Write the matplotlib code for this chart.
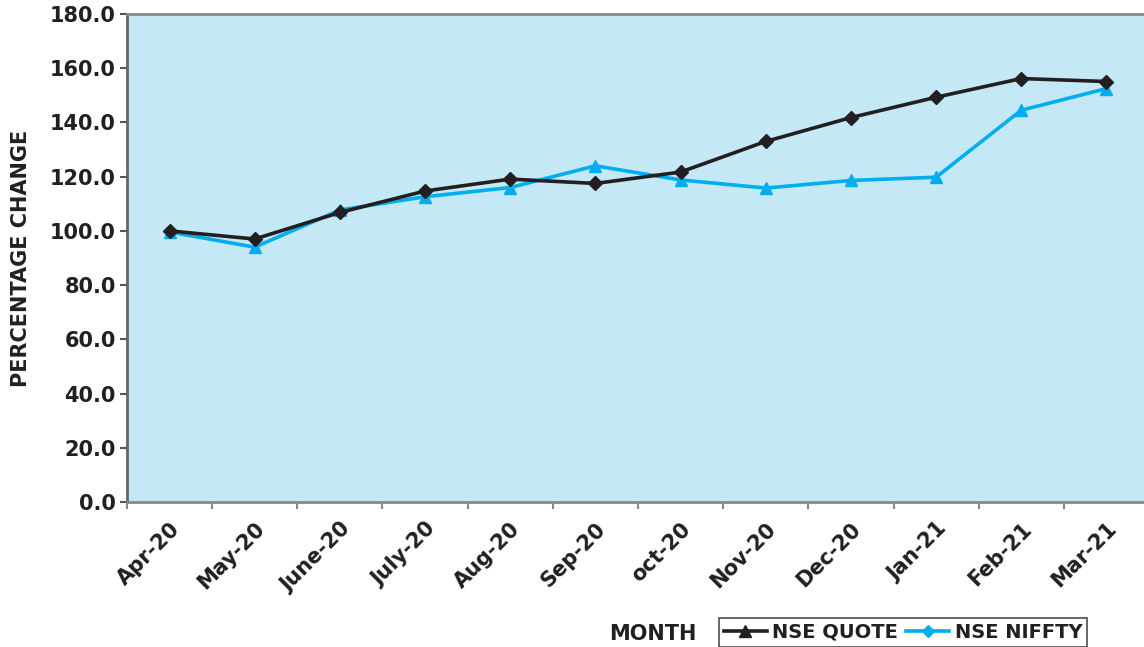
import matplotlib
matplotlib.use('Agg')
import matplotlib.pyplot as plt
from matplotlib.lines import Line2D
import numpy as np

# data
months = ['Apr-20', 'May-20', 'June-20', 'July-20', 'Aug-20', 'Sep-20',
          'oct-20', 'Nov-20', 'Dec-20', 'Jan-21', 'Feb-21', 'Mar-21']
nse_quote = [100.0, 97.0, 106.8, 114.7, 119.1, 117.5, 121.7, 133.0, 141.8, 149.3, 156.2, 155.1]
nse_nifty = [99.6, 94.0, 107.7, 112.6, 116.0, 124.0, 118.8, 115.8, 118.6, 119.8, 144.5, 152.5]
yticks = [0, 20, 40, 60, 80, 100, 120, 140, 160, 180]

plt.rcParams['font.family'] = ['DejaVu Sans']
plt.rcParams['font.weight'] = 'bold'
FS = 15

W, H = 1144, 647
fig = plt.figure(figsize=(W / 100, H / 100), dpi=100)
# plot area in pixels: left 127, top 14, bottom 502, right edge runs past the image
ax = fig.add_axes([127 / W, 1 - 502 / H, (1149 - 127) / W, (502 - 14) / H])

black = '#231f20'
cyan = '#00aeef'
ax.set_facecolor('#c5e8f7')

x = np.arange(len(months))
ax.plot(x, nse_nifty, color=cyan, lw=2.6, marker='^', ms=9, zorder=3)
ax.plot(x, nse_quote, color=black, lw=2.6, marker='D', ms=7.5, zorder=4)

ax.set_xlim(-0.5, len(months) - 0.5)
ax.set_ylim(0, 180)
ax.set_yticks(yticks)
ax.set_yticklabels(['%.1f' % v for v in yticks], fontsize=FS, fontweight='bold', color=black)
ax.set_xticks(x)
ax.set_xticklabels(months, rotation=45, ha='right', va='top', rotation_mode='anchor',
                   fontsize=FS, fontweight='bold', color=black)
ax.set_xticks(np.arange(-0.5, len(months), 1), minor=True)
ax.tick_params(axis='x', which='major', length=0, pad=12)
ax.tick_params(axis='x', which='minor', length=5, width=1.5, color='#888888')
ax.tick_params(axis='y', length=5, width=1.5, color='#555555', pad=3)

for s in ['top', 'bottom', 'right']:
    ax.spines[s].set_color('#888888')
    ax.spines[s].set_linewidth(2)
ax.spines['left'].set_color('#666666')
ax.spines['left'].set_linewidth(2)

fig.text(21 / W, 1 - 258 / H, 'PERCENTAGE CHANGE', rotation=90, ha='center', va='center',
         fontsize=FS, fontweight='bold', color=black)
fig.text(653 / W, 1 - 634 / H, 'MONTH', ha='center', va='center',
         fontsize=FS, fontweight='bold', color=black)

# legend markers are swapped in the original
handles = [Line2D([], [], color=black, lw=2.6, marker='^', ms=9),
           Line2D([], [], color=cyan, lw=2.6, marker='D', ms=6)]
leg = fig.legend(handles, ['NSE QUOTE', 'NSE NIFFTY'], loc='upper left',
                 bbox_to_anchor=(719 / W, 1 - 618 / H), ncol=2, frameon=True,
                 fancybox=False, edgecolor=black, handlelength=2.2, handletextpad=0.3,
                 columnspacing=0.4, borderpad=0.25, borderaxespad=0,
                 prop={'size': 14, 'weight': 'bold'})
leg.get_frame().set_linewidth(1.2)
for t in leg.get_texts():
    t.set_color(black)

fig.savefig('out.png', dpi=100)
